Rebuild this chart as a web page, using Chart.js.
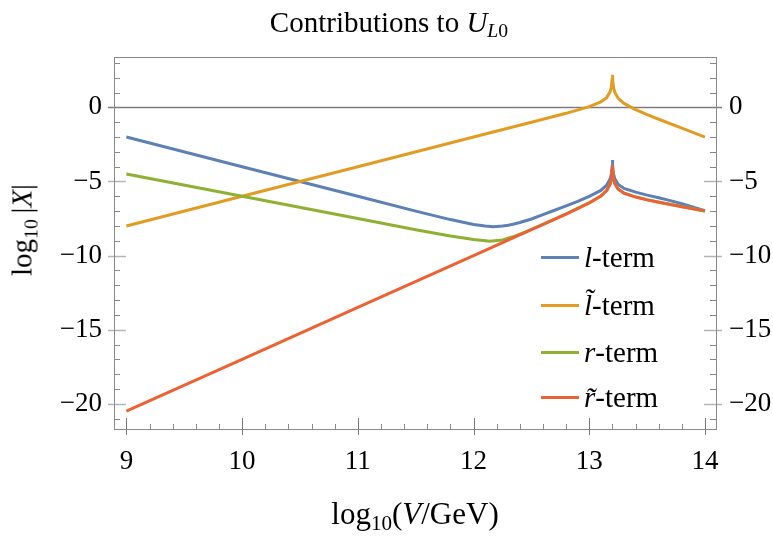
<!DOCTYPE html>
<html>
<head>
<meta charset="utf-8">
<script src="https://cdn.jsdelivr.net/npm/chart.js@4"></script>
<style>
  html, body { margin: 0; padding: 0; background: #fff; }
  #wrap { position: relative; width: 773px; height: 537px; font-family: "Liberation Serif", serif; color: #000; }
  #wrap canvas { position: absolute; left: 0; top: 0; }
  .lbl { position: absolute; white-space: nowrap; font-size: 29px; line-height: 1; }
  .lbl sub { font-size: 0.68em; vertical-align: -0.3em; line-height: 0; }
  #title { left: 389px; top: 22px; transform: translate(-50%, -50%); }
  #xtitle { left: 415px; top: 513px; transform: translate(-50%, -50%); font-size: 31px; }
  #ytitle { left: 22px; top: 230px; transform: translate(-50%, -50%) rotate(-90deg); font-size: 29px; }
  .leg { position: absolute; left: 541px; height: 30px; display: flex; align-items: center; font-size: 29px; }
  .leg .swatch { display: inline-block; width: 38px; height: 3px; margin-right: 5px; }
</style>
</head>
<body>
<div id="wrap">
  <canvas id="chart" width="773" height="537"></canvas>
  <div class="lbl" id="title">Contributions to <i>U</i><sub><i>L</i>0</sub></div>
  <div class="lbl" id="xtitle">log<sub>10</sub>(<i>V</i>/GeV)</div>
  <div class="lbl" id="ytitle">log<sub>10</sub>&#8201;|<i>X</i>|</div>
  <div id="legend"></div>
</div>
<script>
// axis ticks
const xTicks = [9, 10, 11, 12, 13, 14];
const yTicks = [-20, -15, -10, -5, 0];

// l-term (blue)
const lTermX = [9, 10, 11, 11.5, 11.8, 12.0, 12.1, 12.17, 12.25, 12.3, 12.35, 12.4, 12.5, 12.6, 12.7, 12.8, 12.9, 13.0, 13.1, 13.15, 13.18, 13.19, 13.197, 13.2, 13.203, 13.21, 13.22, 13.25, 13.3, 13.4, 13.5, 13.6, 13.7, 13.8, 13.9, 14];
const lTermY = [-2.0, -4.0, -6.0, -7.0, -7.57, -7.90, -8.01, -8.06, -8.01, -7.95, -7.87, -7.77, -7.53, -7.24, -6.94, -6.65, -6.34, -6.0, -5.6, -5.25, -4.82, -4.52, -4.0, -3.55, -4.0, -4.5, -4.8, -5.2, -5.47, -5.72, -5.92, -6.10, -6.29, -6.50, -6.73, -6.97];

// l~-term (orange)
const ltTermX = [9, 10, 11, 12, 12.5, 12.8, 13.0, 13.1, 13.15, 13.18, 13.19, 13.197, 13.2, 13.203, 13.21, 13.22, 13.25, 13.3, 13.4, 13.5, 13.6, 13.8, 14];
const ltTermY = [-8.0, -6.0, -4.0, -2.0, -1.0, -0.40, 0.05, 0.37, 0.66, 1.05, 1.34, 1.86, 2.2, 1.86, 1.33, 1.03, 0.61, 0.27, -0.15, -0.49, -0.80, -1.40, -2.0];

// r-term (green)
const rTermX = [9, 10, 11, 11.5, 11.8, 12.0, 12.14, 12.25, 12.34, 12.45, 12.6, 12.8, 13.0, 13.1, 13.15, 13.18, 13.19, 13.197, 13.2, 13.203, 13.21, 13.22, 13.25, 13.3, 13.4, 13.5, 13.6, 13.8, 14];
const rTermY = [-4.5, -6.0, -7.5, -8.25, -8.68, -8.92, -9.03, -8.95, -8.73, -8.4, -7.9, -7.18, -6.43, -5.98, -5.61, -5.17, -4.86, -4.33, -3.9, -4.33, -4.84, -5.13, -5.51, -5.78, -6.04, -6.23, -6.39, -6.69, -6.99];

// r~-term (red)
const rtTermX = [9, 10, 11, 12, 12.5, 12.8, 13.0, 13.1, 13.15, 13.18, 13.19, 13.197, 13.2, 13.203, 13.21, 13.22, 13.25, 13.3, 13.4, 13.5, 13.6, 13.8, 14];
const rtTermY = [-20.5, -17.0, -13.5, -10.0, -8.25, -7.20, -6.45, -5.99, -5.62, -5.18, -4.87, -4.34, -3.9, -4.34, -4.85, -5.14, -5.52, -5.79, -6.05, -6.24, -6.40, -6.70, -7.0];

const series = [
  { label: '<i>l</i>-term', xs: lTermX, ys: lTermY, color: '#5E81B5', order: 4 },
  { label: '<i>l&#771;</i>-term', xs: ltTermX, ys: ltTermY, color: '#E19C24', order: 3 },
  { label: '<i>r</i>-term', xs: rTermX, ys: rTermY, color: '#8FB032', order: 2 },
  { label: '<i>r&#771;</i>-term', xs: rtTermX, ys: rtTermY, color: '#EB6235', order: 1 },
];

// legend inside the plot (HTML so the tildes / italics render as text)
const legendTops = [242, 290, 337, 382];
const legendEl = document.getElementById('legend');
series.forEach((s, i) => {
  const d = document.createElement('div');
  d.className = 'leg';
  d.style.top = legendTops[i] + 'px';
  d.innerHTML = `<span class="swatch" style="background:${s.color}"></span><span>${s.label}</span>`;
  legendEl.appendChild(d);
});

const fmt = (v) => (v < 0 ? '\u2212' + Math.abs(v) : String(v));

// frame, zero axis line and in/out tick marks like the original
const framePlugin = {
  id: 'frame',
  beforeDatasetsDraw(chart) {
    const { ctx, chartArea: a, scales } = chart;
    const xs = scales.x, ys = scales.y;
    const seg = (x1, y1, x2, y2) => { ctx.beginPath(); ctx.moveTo(x1, y1); ctx.lineTo(x2, y2); ctx.stroke(); };
    ctx.save();
    ctx.lineWidth = 1;
    // minor x ticks
    ctx.strokeStyle = '#888';
    for (let i = 0; i <= 25; i++) {
      if (i % 5 === 0) continue;
      const px = Math.round(xs.getPixelForValue(9 + i * 0.2)) + 0.5;
      seg(px, a.bottom, px, a.bottom - 5);
    }
    // minor y ticks (left and right)
    for (let v = -21; v <= 3; v++) {
      if (v % 5 === 0) continue;
      const py = Math.round(ys.getPixelForValue(v)) + 0.5;
      seg(a.left, py, a.left + 6, py);
      seg(a.right, py, a.right - 6, py);
    }
    // major x ticks
    ctx.strokeStyle = '#777';
    xTicks.forEach(v => {
      const px = Math.round(xs.getPixelForValue(v)) + 0.5;
      seg(px, a.bottom - 11, px, a.bottom + 6);
    });
    // major y ticks
    ctx.strokeStyle = '#b4b4b4';
    ctx.lineWidth = 1.5;
    yTicks.forEach(v => {
      if (v === 0) return;
      const py = Math.round(ys.getPixelForValue(v)) + 0.5;
      seg(a.left - 6, py, a.left + 12, py);
      seg(a.right - 12, py, a.right + 6, py);
    });
    // zero line
    ctx.strokeStyle = '#7d7d7d';
    ctx.lineWidth = 1.6;
    const y0 = Math.round(ys.getPixelForValue(0)) + 0.5;
    seg(a.left - 6, y0, a.right + 6, y0);
    // frame
    ctx.strokeStyle = '#8a8a8a';
    ctx.lineWidth = 1;
    ctx.strokeRect(Math.round(a.left) + 0.5, Math.round(a.top) + 0.5, Math.round(a.width), Math.round(a.height));
    ctx.restore();
  },
};

const tickFont = { family: 'Liberation Serif', size: 27 };

new Chart(document.getElementById('chart'), {
  type: 'line',
  data: {
    datasets: series.map(s => ({
      label: s.label,
      data: s.xs.map((x, i) => ({ x, y: s.ys[i] })),
      borderColor: s.color,
      backgroundColor: s.color,
      borderWidth: 3,
      pointRadius: 0,
      tension: 0,
      fill: false,
      order: s.order,
      yAxisID: 'y',
    })),
  },
  options: {
    responsive: false,
    animation: false,
    layout: { padding: { top: 57, left: 0, right: 0, bottom: 0 } },
    plugins: { legend: { display: false }, tooltip: { enabled: false } },
    scales: {
      x: {
        type: 'linear', position: 'bottom', min: 8.893, max: 14.095,
        grid: { display: false, drawTicks: false }, border: { display: false },
        afterBuildTicks: (s) => { s.ticks = xTicks.map(v => ({ value: v })); },
        afterFit: (s) => { s.height = 108; },
        ticks: { font: tickFont, color: '#000', padding: 17, maxRotation: 0, callback: fmt },
      },
      y: {
        type: 'linear', position: 'left', min: -21.7, max: 3.4,
        grid: { display: false, drawTicks: false }, border: { display: false },
        afterBuildTicks: (s) => { s.ticks = yTicks.map(v => ({ value: v })); },
        afterFit: (s) => { s.width = 114; },
        ticks: { font: tickFont, color: '#000', padding: 12, callback: fmt },
      },
      y2: {
        type: 'linear', position: 'right', min: -21.7, max: 3.4,
        grid: { display: false, drawTicks: false }, border: { display: false },
        afterBuildTicks: (s) => { s.ticks = yTicks.map(v => ({ value: v })); },
        afterFit: (s) => { s.width = 57; },
        ticks: { font: tickFont, color: '#000', padding: 13, callback: fmt },
      },
    },
  },
  plugins: [framePlugin],
});
</script>
</body>
</html>
